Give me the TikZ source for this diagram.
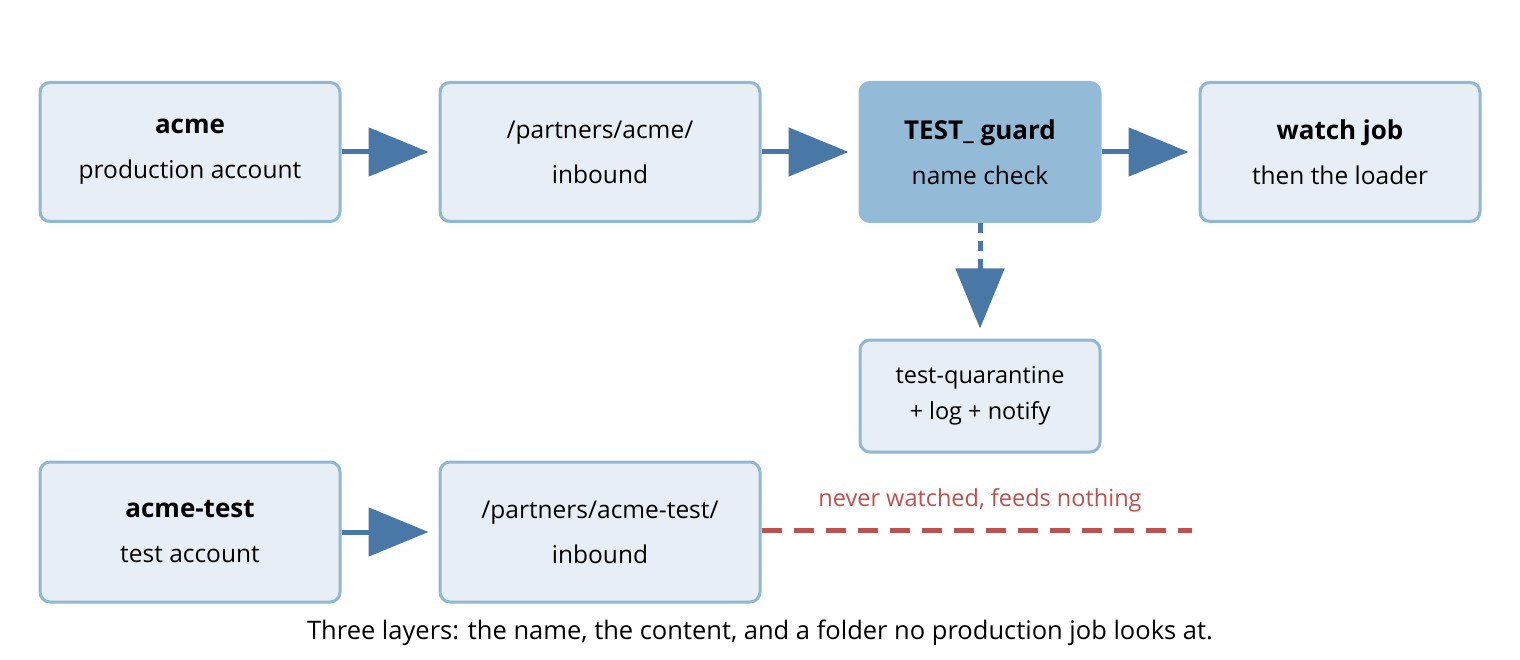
\documentclass[tikz,border=0pt]{standalone}
\usepackage{fontspec}
\setmainfont{Open Sans}
\usetikzlibrary{arrows.meta}
\definecolor{boxfill}{HTML}{E8EEF5}
\definecolor{boxline}{HTML}{8FB8D4}
\definecolor{guardfill}{HTML}{93BAD6}
\definecolor{arrowc}{HTML}{4A78A6}
\definecolor{redc}{HTML}{C0504D}
\begin{document}
\begin{tikzpicture}[x=1pt,y=-1pt,
  box/.style={draw=boxline,fill=boxfill,line width=3pt,rounded corners=10pt,
    align=center,inner sep=0pt,font=\fontsize{24.5}{45}\selectfont},
  arr/.style={draw=arrowc,line width=5pt,-{Triangle[length=60pt,width=48pt]},shorten >=10pt}]
\useasboundingbox (0,0) rectangle (1520,660);
\node[box,minimum width=300pt,minimum height=139pt] (acme) at (190,152)
  {\textbf{\fontsize{26}{30}\selectfont acme}\\production account};
\node[box,minimum width=320pt,minimum height=139pt] (inb) at (600,152)
  {/partners/acme/\\inbound};
\node[box,fill=guardfill,draw=guardfill,minimum width=240pt,minimum height=139pt] (guard) at (980,152)
  {\textbf{\fontsize{26}{30}\selectfont TEST\_ guard}\\name check};
\node[box,minimum width=280pt,minimum height=139pt] (watch) at (1340,152)
  {\textbf{\fontsize{26}{30}\selectfont watch job}\\then the loader};
\node[box,minimum width=240pt,minimum height=112pt,font=\fontsize{23.5}{36}\selectfont] (quar) at (980,396)
  {test-quarantine\\+ log + notify};
\node[box,minimum width=300pt,minimum height=140pt] (acmet) at (190,532)
  {\textbf{\fontsize{26}{30}\selectfont acme-test}\\test account};
\node[box,minimum width=320pt,minimum height=140pt] (inbt) at (600,532)
  {/partners/acme-test/\\inbound};
\draw[arr] (acme.east) -- (inb.west);
\draw[arr] (inb.east) -- (guard.west);
\draw[arr] (guard.east) -- (watch.west);
\draw[arr] (acmet.east) -- (inbt.west);
\draw[arr,dash pattern=on 10pt off 8pt] (guard.south) -- (quar.north);
\coordinate (end) at (1192,530);
\draw[redc,line width=5pt,dash pattern=on 20pt off 12pt] (inbt.east |- end) -- (end);
\node[text=redc,font=\fontsize{23.5}{28}\selectfont] (lbl) at (980,500) {never watched, feeds nothing};
\node[font=\fontsize{25.5}{30}\selectfont] (cap) at (760,633) {Three layers: the name, the content, and a folder no production job looks at.};
\end{tikzpicture}
\end{document}
